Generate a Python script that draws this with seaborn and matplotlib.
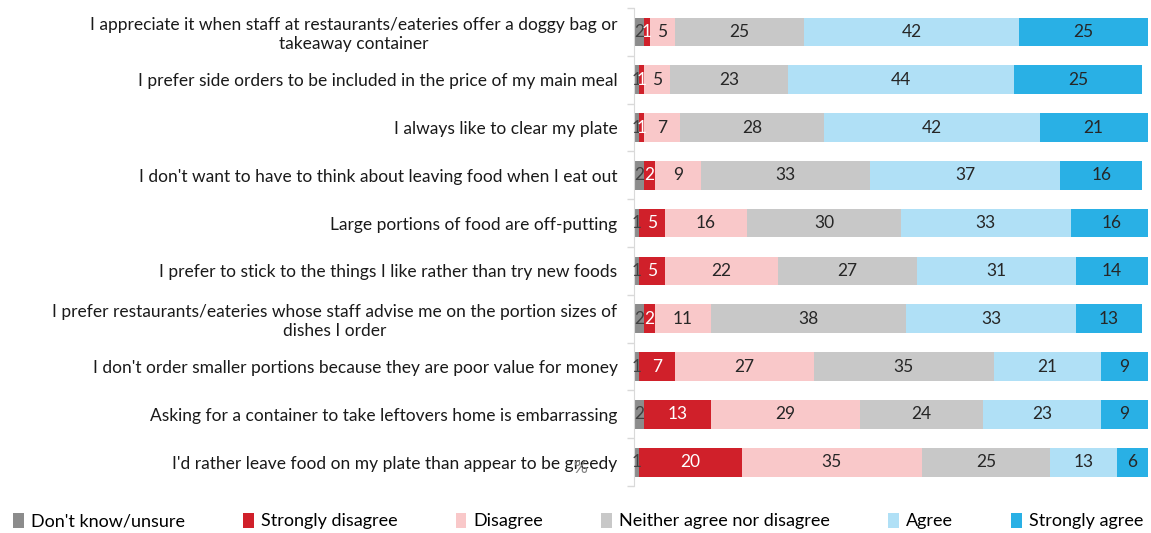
import numpy as np
import pandas as pd
import matplotlib
matplotlib.use("Agg")
import matplotlib.pyplot as plt
import seaborn as sns
from matplotlib.patches import Patch

statements = [
    "I appreciate it when staff at restaurants/eateries offer a doggy bag or\ntakeaway container",
    "I prefer side orders to be included in the price of my main meal",
    "I always like to clear my plate",
    "I don't want to have to think about leaving food when I eat out",
    "Large portions of food are off-putting",
    "I prefer to stick to the things I like rather than try new foods",
    "I prefer restaurants/eateries whose staff advise me on the portion sizes of\ndishes I order",
    "I don't order smaller portions because they are poor value for money",
    "Asking for a container to take leftovers home is embarrassing",
    "I'd rather leave food on my plate than appear to be greedy",
]

responses = ["Don't know/unsure", "Strongly disagree", "Disagree",
             "Neither agree nor disagree", "Agree", "Strongly agree"]

dont_know = [2, 1, 1, 2, 1, 1, 2, 1, 2, 1]
strongly_disagree = [1, 1, 1, 2, 5, 5, 2, 7, 13, 20]
disagree = [5, 5, 7, 9, 16, 22, 11, 27, 29, 35]
neither = [25, 23, 28, 33, 30, 27, 38, 35, 24, 25]
agree = [42, 44, 42, 37, 33, 31, 33, 21, 23, 13]
strongly_agree = [25, 25, 21, 16, 16, 14, 13, 9, 9, 6]

colors = ["#8c8c8c", "#d0202a", "#f9c8c9", "#c8c8c8", "#b0e0f6", "#29b0e5"]
label_colors = ["#404040", "#ffffff", "#262626", "#262626", "#262626", "#262626"]

series = [dont_know, strongly_disagree, disagree, neither, agree, strongly_agree]
df = pd.DataFrame({r: v for r, v in zip(responses, series)})
df["Statement"] = statements
cum = df[responses].cumsum(axis=1)

plt.rcParams["font.family"] = ["Lato", "DejaVu Sans"]
fig = plt.figure(figsize=(11.51, 5.33), dpi=100)
ax = fig.add_axes([0.551, 0.088, 0.446, 0.897])

# Stack by drawing cumulative totals from the outermost segment inward
for i in range(len(responses) - 1, -1, -1):
    plot_df = pd.DataFrame({"Statement": statements, "x": cum[responses[i]]})
    sns.barplot(data=plot_df, x="x", y="Statement", color=colors[i],
                width=0.6, saturation=1, ax=ax, orient="h", linewidth=0)

# Segment value labels
for i, r in enumerate(responses):
    for j, v in enumerate(df[r]):
        center = cum[r].iloc[j] - v / 2
        ax.text(center, j, f"{v}", ha="center", va="center",
                fontsize=12.5, color=label_colors[i])

ax.set_xlim(0, 100)
ax.set_ylim(len(statements) - 0.5, -0.5)
ax.set_xlabel("")
ax.set_ylabel("")
ax.set_xticks([])
ax.set_yticks(range(len(statements)))
ax.set_yticklabels(statements, fontsize=12.5, color="#1a1a1a", multialignment="center")
ax.tick_params(axis="y", which="major", length=0, pad=12)
ax.set_yticks(np.arange(-0.5, len(statements), 1), minor=True)
ax.tick_params(axis="y", which="minor", length=5, color="#d9d9d9", width=1)
for side in ["top", "right", "bottom"]:
    ax.spines[side].set_visible(False)
ax.spines["left"].set_color("#d9d9d9")
ax.set_facecolor("white")

fig.text(0.504, 0.122, "%", fontsize=12.5, color="#808080", ha="center", va="center")

handles = [Patch(facecolor=c, edgecolor="none") for c in colors]
fig.legend(handles, responses, loc="center", ncol=6, bbox_to_anchor=(0.005, 0.0, 0.995, 0.045),
           mode="expand", frameon=False, fontsize=13, handlelength=0.6, handleheight=0.9,
           handletextpad=0.4, borderaxespad=0)

fig.savefig("out.png", dpi=100, facecolor="white")
